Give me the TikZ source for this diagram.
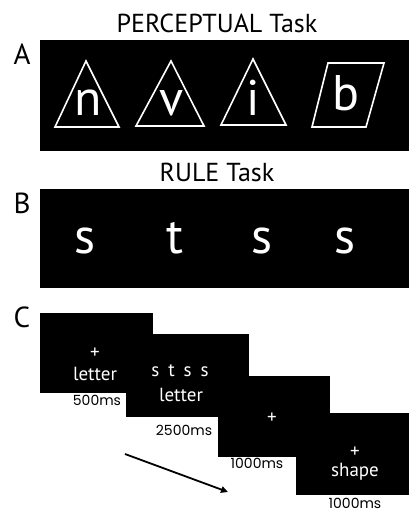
\documentclass[tikz,border=0pt]{standalone}
\usepackage{fontspec}
\setmainfont{PT Sans}
\newfontfamily\timefont{Poppins}
\usetikzlibrary{arrows.meta}
\begin{document}
\begin{tikzpicture}[x=1pt,y=-1pt,
  screen/.style={fill=black,draw=none},
  outline/.style={draw=white,line width=1.6pt,line join=miter},
  title/.style={font=\fontsize{26}{28}\selectfont,inner sep=0pt},
  panel/.style={font=\fontsize{29}{31}\selectfont,inner sep=0pt},
  bigletter/.style={text=white,anchor=base,inner sep=0pt,font=\fontsize{50}{52}\selectfont},
  cue/.style={text=white,inner sep=0pt,font=\fontsize{19}{21}\selectfont},
  duration/.style={inner sep=0pt,font=\timefont\fontsize{14}{16}\selectfont}]
\useasboundingbox (0,0) rectangle (409,513);

% ---- A: perceptual task ----
\node[title] (tA) at (217,23) {PERCEPTUAL Task};
\node[panel] (pA) at (22,54) {A};
\fill[screen] (40,40) rectangle (409,151);
\draw[outline] (86,61) -- (119,127) -- (55,127) -- cycle;
\draw[outline] (171,61) -- (204,126) -- (136,126) -- cycle;
\draw[outline] (253,59) -- (286,125) -- (221,125) -- cycle;
\draw[outline] (328,63) -- (384,63) -- (366,127) -- (312,127) -- cycle;
\node[bigletter] (ln) at (88,116) {n};
\node[bigletter] (lv) at (172,116) {v};
\node[bigletter] (li) at (253,116) {i};
\node[bigletter] (lb) at (346,111) {b};

% ---- B: rule task ----
\node[title] (tB) at (217,172) {RULE Task};
\node[panel] (pB) at (22,203) {B};
\fill[screen] (40,189) rectangle (409,288);
\node[bigletter] (s1) at (85,253) {s};
\node[bigletter] (t1) at (175,253) {t};
\node[bigletter] (s2) at (262,253) {s};
\node[bigletter] (s3) at (345,253) {s};

% ---- C: trial timeline ----
\node[panel] (pC) at (22,317) {C};
\fill[screen] (40,313) rectangle (153,393);
\fill[screen] (126,334) rectangle (249,417);
\fill[screen] (218,376) rectangle (330,457);
\fill[screen] (296,413) rectangle (409,495);

\node[cue] (c1a) at (95,353) {+};
\node[cue] (c1b) at (95,374) {letter};
\node[duration] (d1) at (97,400) {500ms};

\node[cue] (c2a) at (180,371) {s\hspace{9pt}t\hspace{9pt}s\hspace{9pt}s};
\node[cue] (c2b) at (181,395) {letter};
\node[duration] (d2) at (184,430) {2500ms};

\node[cue] (c3a) at (272,418) {+};
\node[duration] (d3) at (257,463) {1000ms};

\node[cue] (c4a) at (355,452) {+};
\node[cue] (c4b) at (355,472) {shape};
\node[duration] (d4) at (355,503) {1000ms};

\coordinate (ar0) at (125,454);
\coordinate (ar1) at (228,492);
\draw[line width=1.8pt,-{Triangle[length=7pt,width=6.5pt]}] (ar0) -- (ar1);
\end{tikzpicture}
\end{document}
